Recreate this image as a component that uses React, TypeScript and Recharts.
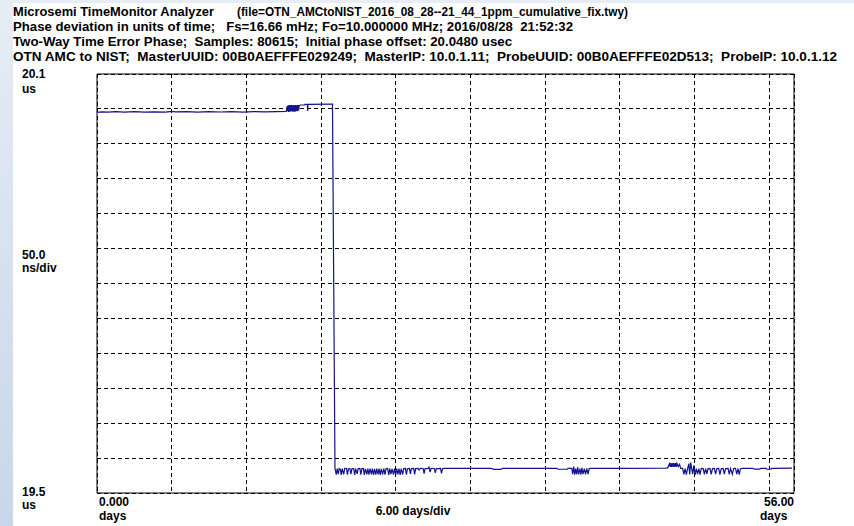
import React from "react";
import { LineChart, Line, XAxis, YAxis, CartesianGrid, ReferenceArea } from "recharts";

// Two-way time error phase, in microseconds, against elapsed days.
type Sample = [number, number];

const dayTicks = [0, 6, 12, 18, 24, 30, 36, 42, 48, 54, 56];
const phaseTicks = [19.5, 19.55, 19.6, 19.65, 19.7, 19.75, 19.8, 19.85, 19.9, 19.95, 20.0, 20.05, 20.1];

const headerLines = [
  "Phase deviation in units of time;   Fs=16.66 mHz; Fo=10.000000 MHz; 2016/08/28  21:52:32",
  "Two-Way Time Error Phase;  Samples: 80615;  Initial phase offset: 20.0480 usec",
  "OTN AMC to NIST;  MasterUUID: 00B0AEFFFE029249;  MasterIP: 10.0.1.11;  ProbeUUID: 00B0AEFFFE02D513;  ProbeIP: 10.0.1.12",
];

const beforeStep: Sample[] = [
  [0, 20.0452], [0.4, 20.0459], [0.9, 20.0454], [1.5, 20.0461], [2.2, 20.0455], [3.0, 20.046],
  [3.8, 20.0453], [4.6, 20.0458], [5.5, 20.0455], [6.0, 20.0466], [6.3, 20.0457], [7.2, 20.046],
  [8.1, 20.0455], [9.0, 20.0461], [9.9, 20.0456], [10.8, 20.046], [11.7, 20.0455], [12.6, 20.0461],
  [13.5, 20.0457], [14.4, 20.0462], [15.2, 20.0463],
];

const burstBeforeStep: Sample[] = [
  [15.28, 20.054], [15.32, 20.0462], [15.36, 20.0552], [15.4, 20.0458], [15.44, 20.0556], [15.48, 20.046],
  [15.52, 20.0554], [15.56, 20.0462], [15.6, 20.0556], [15.64, 20.0466], [15.68, 20.0553], [15.72, 20.046],
  [15.76, 20.0556], [15.8, 20.0463], [15.84, 20.0552], [15.88, 20.0459], [15.92, 20.0555], [15.96, 20.0465],
  [16.0, 20.0553], [16.04, 20.047], [16.08, 20.0556], [16.12, 20.0468], [16.16, 20.0554], [16.2, 20.0478],
  [16.25, 20.055], [16.3, 20.0552],
];

const stepEdge: Sample[] = [
  [16.35, 20.0556], [16.68, 20.0558], [16.72, 20.0566], [16.9, 20.0566], [16.92, 20.047], [16.95, 20.0566],
  [18.86, 20.0568], [18.92, 20.0568], [19.12, 19.5345],
];

const afterStepNoise: Sample[] = [
  [19.15, 19.533], [19.22, 19.5262], [19.3, 19.5348], [19.38, 19.527], [19.46, 19.535], [19.55, 19.534],
  [19.62, 19.5258], [19.7, 19.5349], [19.82, 19.5266], [19.9, 19.5352], [20.05, 19.5351], [20.12, 19.5262],
  [20.2, 19.5347], [20.32, 19.535], [20.4, 19.527], [20.48, 19.5346], [20.62, 19.5351], [20.7, 19.5258],
  [20.78, 19.5349], [20.9, 19.5275], [20.98, 19.535], [21.12, 19.5352], [21.2, 19.5264], [21.28, 19.5348],
  [21.4, 19.5352], [21.48, 19.526], [21.56, 19.5345], [21.68, 19.5268], [21.76, 19.535], [21.85, 19.5262],
  [21.93, 19.5348], [22.05, 19.5266], [22.12, 19.535], [22.22, 19.5259], [22.3, 19.5347], [22.4, 19.5263],
  [22.48, 19.535], [22.58, 19.5268], [22.66, 19.5349], [22.75, 19.526], [22.84, 19.5346], [22.95, 19.5265],
  [23.04, 19.5351], [23.14, 19.5262], [23.22, 19.5348], [23.35, 19.5352], [23.44, 19.5258], [23.52, 19.5349],
  [23.62, 19.527], [23.7, 19.5345], [23.82, 19.5263], [23.9, 19.535], [24.0, 19.526], [24.08, 19.5348],
  [24.18, 19.5267], [24.26, 19.535], [24.36, 19.5258], [24.44, 19.5347], [24.56, 19.5265], [24.64, 19.5349],
  [24.78, 19.5352], [24.86, 19.5262], [24.94, 19.5348], [25.1, 19.5351], [25.18, 19.5272], [25.26, 19.535],
  [25.45, 19.5352], [25.52, 19.5266], [25.6, 19.5349], [25.8, 19.5353], [25.88, 19.533], [26.0, 19.5352],
  [26.2, 19.5351], [26.28, 19.5276], [26.36, 19.535], [26.6, 19.5353], [26.68, 19.537], [26.76, 19.53],
  [26.85, 19.5352], [27.1, 19.5351], [27.18, 19.529], [27.26, 19.535], [27.6, 19.5352], [27.68, 19.528],
  [27.76, 19.5351], [27.95, 19.5353],
];

const quietStretch: Sample[] = [
  [28.5, 19.5354], [31.7, 19.5353], [31.85, 19.5338], [32.45, 19.5338], [32.6, 19.5353], [36.95, 19.5352],
  [37.05, 19.534], [37.75, 19.534], [37.85, 19.5352],
];

const midNoise: Sample[] = [
  [38.15, 19.5352], [38.22, 19.527], [38.3, 19.538], [38.38, 19.5262], [38.46, 19.535], [38.55, 19.5268],
  [38.62, 19.5372], [38.7, 19.5265], [38.8, 19.535], [38.88, 19.5262], [38.96, 19.536], [39.05, 19.527],
  [39.15, 19.535], [39.25, 19.5265], [39.35, 19.5352], [39.45, 19.5272], [39.55, 19.535], [39.65, 19.5353],
  [42.0, 19.5354], [45.7, 19.5355],
];

const lateBurst: Sample[] = [
  [45.85, 19.536], [46.0, 19.542], [46.05, 19.5375], [46.1, 19.5428], [46.15, 19.5372], [46.2, 19.5426],
  [46.25, 19.5378], [46.3, 19.543], [46.35, 19.5374], [46.4, 19.5425], [46.45, 19.5376], [46.5, 19.5428],
  [46.55, 19.5372], [46.6, 19.5424], [46.7, 19.5378], [46.8, 19.541], [46.9, 19.5352],
];

const lateNoise: Sample[] = [
  [47.05, 19.5352], [47.15, 19.5268], [47.25, 19.535], [47.35, 19.5262], [47.45, 19.5348], [47.55, 19.542],
  [47.62, 19.5265], [47.7, 19.5436], [47.78, 19.535], [47.86, 19.527], [47.95, 19.5395], [48.05, 19.526],
  [48.15, 19.535], [48.25, 19.5272], [48.35, 19.5348], [48.45, 19.5264], [48.55, 19.5352], [48.7, 19.535],
  [48.8, 19.5268], [48.9, 19.5349], [49.0, 19.5275], [49.1, 19.5351], [49.25, 19.535], [49.35, 19.5266],
  [49.45, 19.5349], [49.6, 19.5352], [49.7, 19.527], [49.8, 19.535], [49.95, 19.5352], [50.05, 19.5262],
  [50.15, 19.5348], [50.3, 19.5351], [50.4, 19.5272], [50.5, 19.535], [50.7, 19.5352], [50.8, 19.5266],
  [50.9, 19.5349], [51.05, 19.5268], [51.15, 19.5351], [51.3, 19.5352], [51.4, 19.527], [51.5, 19.535],
  [51.6, 19.5264], [51.7, 19.5348], [51.85, 19.5352],
];

const tail: Sample[] = [
  [52.7, 19.5354], [52.8, 19.5342], [53.25, 19.5342], [53.35, 19.5354], [53.75, 19.5353], [53.8, 19.534],
  [54.15, 19.534], [54.2, 19.5353], [55.85, 19.5355],
];

const samples = [
  ...beforeStep, ...burstBeforeStep, ...stepEdge, ...afterStepNoise, ...quietStretch,
  ...midNoise, ...lateBurst, ...lateNoise, ...tail,
].map(([day, us]) => ({ day, us }));

const font = "'Liberation Sans', Arial, sans-serif";

const T = (p: { x: number; y: number; children: string; len?: number; anchor?: "start" | "middle" | "end" }) => (
  <text
    x={p.x}
    y={p.y}
    textAnchor={p.anchor || "start"}
    textLength={p.len}
    lengthAdjust={p.len ? "spacingAndGlyphs" : undefined}
    style={{ whiteSpace: "pre" }}
  >
    {p.children}
  </text>
);

export default function App() {
  return (
    <div style={{ position: "absolute", left: 0, top: 0, width: 854, height: 526, background: "#fff", overflow: "hidden" }}>
      <style>{`.recharts-cartesian-grid line, .recharts-reference-area rect { shape-rendering: crispEdges; }`}</style>
      <div style={{ position: "absolute", left: 0, top: 0, width: 854, height: 3, background: "#e6edf5" }} />
      <div
        style={{
          position: "absolute", left: 0, top: 0, width: 13, height: 526,
          background: "linear-gradient(to bottom, #e6edf5, #c7d6ea)",
        }}
      />
      <div style={{ position: "absolute", left: 0, top: 0 }}>
        <LineChart width={854} height={526} data={samples} margin={{ top: 74, left: 97, right: 60, bottom: 33 }}>
          <XAxis dataKey="day" type="number" domain={[0, 56]} ticks={dayTicks} hide />
          <YAxis type="number" domain={[19.5, 20.1]} ticks={phaseTicks} hide />
          <CartesianGrid stroke="#000" strokeDasharray="4 3" />
          <Line
            dataKey="us"
            type="linear"
            stroke="#14148c"
            strokeWidth={1.2}
            dot={false}
            isAnimationActive={false}
          />
          <ReferenceArea x1={0} x2={56} y1={19.5} y2={20.1} fill="none" stroke="#000" strokeWidth={1} ifOverflow="visible" />
        </LineChart>
      </div>
      <svg
        width={854}
        height={526}
        style={{ position: "absolute", left: 0, top: 0, pointerEvents: "none" }}
        fontFamily={font}
        fontWeight="bold"
        fontSize={12}
        fill="#000"
      >
        <T x={13} y={16} len={201}>Microsemi TimeMonitor Analyzer</T>
        <T x={237} y={16} len={391}>(file=OTN_AMCtoNIST_2016_08_28--21_44_1ppm_cumulative_fix.twy)</T>
        <T x={13} y={31} len={560}>{headerLines[0]}</T>
        <T x={13} y={46} len={499}>{headerLines[1]}</T>
        <T x={13} y={61} len={824}>{headerLines[2]}</T>

        <T x={22} y={78}>20.1</T>
        <T x={22} y={93}>us</T>
        <T x={22} y={259}>50.0</T>
        <T x={22} y={272}>ns/div</T>
        <T x={22} y={496}>19.5</T>
        <T x={22} y={509}>us</T>

        <T x={99} y={506}>0.000</T>
        <T x={99} y={520}>days</T>
        <T x={413} y={515} anchor="middle">6.00 days/div</T>
        <T x={794} y={506} anchor="end">56.00</T>
        <T x={760} y={520}>days</T>
      </svg>
    </div>
  );
}
